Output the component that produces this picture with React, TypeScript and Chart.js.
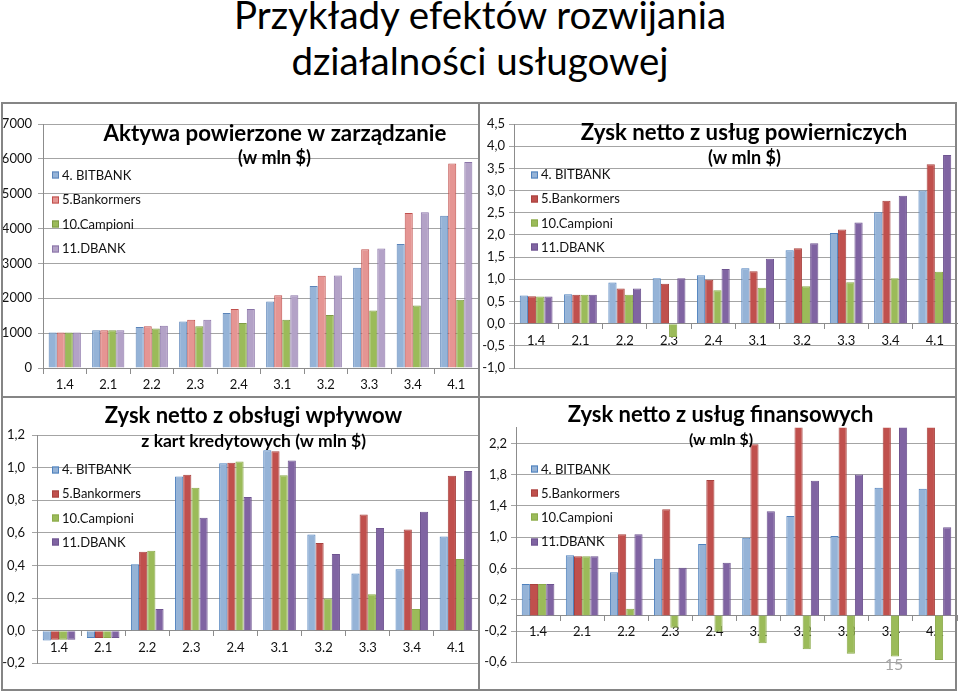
import React, { useEffect, useRef } from "react";
import { Chart, registerables } from "chart.js";

Chart.register(...registerables);

// ---------- data ----------
const CATEGORIES = ["1.4", "2.1", "2.2", "2.3", "2.4", "3.1", "3.2", "3.3", "3.4", "4.1"];
const SERIES_NAMES = ["4. BITBANK", "5.Bankormers", "10.Campioni", "11.DBANK"];

// Aktywa powierzone w zarządzanie (w mln $)
const AKTYWA_BITBANK = [1020, 1080, 1175, 1335, 1575, 1905, 2350, 2875, 3560, 4365];
const AKTYWA_BANKORMERS = [1020, 1080, 1195, 1385, 1690, 2090, 2645, 3410, 4450, 5865];
const AKTYWA_CAMPIONI = [1020, 1080, 1135, 1195, 1290, 1385, 1520, 1650, 1795, 1960];
const AKTYWA_DBANK = [1020, 1080, 1210, 1385, 1690, 2090, 2655, 3430, 4470, 5910];
const AKTYWA_TICKS = [0, 1000, 2000, 3000, 4000, 5000, 6000, 7000];

// Zysk netto z usług powierniczych (w mln $)
const POW_BITBANK = [0.635, 0.665, 0.93, 1.025, 1.09, 1.25, 1.655, 2.045, 2.51, 3.0];
const POW_BANKORMERS = [0.615, 0.65, 0.79, 0.9, 0.99, 1.18, 1.7, 2.12, 2.77, 3.59];
const POW_CAMPIONI = [0.61, 0.65, 0.65, -0.3, 0.755, 0.81, 0.84, 0.935, 1.025, 1.17];
const POW_DBANK = [0.61, 0.65, 0.79, 1.025, 1.23, 1.46, 1.81, 2.28, 2.885, 3.8];
const POW_TICKS = [-1.0, -0.5, 0.0, 0.5, 1.0, 1.5, 2.0, 2.5, 3.0, 3.5, 4.0, 4.5];

// Zysk netto z obsługi wpływow z kart kredytowych (w mln $)
const KART_BITBANK = [-0.06, -0.045, 0.407, 0.946, 1.026, 1.106, 0.59, 0.35, 0.376, 0.577];
const KART_BANKORMERS = [-0.055, -0.045, 0.484, 0.956, 1.03, 1.1, 0.537, 0.713, 0.62, 0.95];
const KART_CAMPIONI = [-0.055, -0.045, 0.49, 0.877, 1.038, 0.953, 0.198, 0.223, 0.133, 0.44];
const KART_DBANK = [-0.055, -0.045, 0.133, 0.693, 0.82, 1.043, 0.47, 0.63, 0.73, 0.98];
const KART_TICKS = [-0.2, 0.0, 0.2, 0.4, 0.6, 0.8, 1.0, 1.2];

// Zysk netto z usług finansowych (w mln $)
const FIN_BITBANK = [0.4, 0.768, 0.55, 0.725, 0.913, 0.994, 1.27, 1.015, 1.633, 1.62];
const FIN_BANKORMERS = [0.4, 0.755, 1.036, 1.356, 1.73, 2.187, 2.6, 2.7, 2.8, 2.9];
const FIN_CAMPIONI = [0.4, 0.755, 0.086, -0.157, -0.208, -0.357, -0.434, -0.49, -0.527, -0.57];
const FIN_DBANK = [0.4, 0.755, 1.036, 0.61, 0.674, 1.33, 1.722, 1.8, 2.5, 1.126];
const FIN_TICKS = [-0.6, -0.2, 0.2, 0.6, 1.0, 1.4, 1.8, 2.2];

// ---------- styles ----------
const FONT = "Lato, 'DejaVu Sans', sans-serif";
const GRID = "#a4a4a4";
const AXIS = "#8c8c8c";

const PASTEL = [
  { fill: "#95B3D7", border: "#5B84B9" },
  { fill: "#E59593", border: "#C0504D" },
  { fill: "#9BBB59", border: "#7E9A45" },
  { fill: "#B3A2C7", border: "#8A74A8" },
];
const STRONG = [
  { fill: "#95B3D7", border: "#4F81BD" },
  { fill: "#C0504D", border: "#A8423F" },
  { fill: "#9BBB59", border: "#8BAA4B" },
  { fill: "#8064A2", border: "#6E5490" },
];

type Spec = {
  rect: { x: number; y: number; w: number; h: number };
  area: { left: number; top: number; right: number; bottom: number };
  series: number[][];
  colors: { fill: string; border: string }[];
  ticks: number[];
  min: number;
  max: number;
  decimals: number;
  labelPad: number;
  titles: { text: string; x: number; y: number; size: number }[];
  legend: { x: number; y0: number; dy: number };
};

const SPECS: Spec[] = [
  {
    rect: { x: 1, y: 102, w: 478, h: 295 },
    area: { left: 42, top: 22, right: 477, bottom: 266 },
    series: [AKTYWA_BITBANK, AKTYWA_BANKORMERS, AKTYWA_CAMPIONI, AKTYWA_DBANK],
    colors: PASTEL,
    ticks: AKTYWA_TICKS,
    min: 0,
    max: 7000,
    decimals: 0,
    labelPad: 6,
    titles: [
      { text: "Aktywa powierzone w zarządzanie", x: 274, y: 38.7, size: 22.3 },
      { text: "(w mln $)", x: 273.5, y: 62, size: 18 },
    ],
    legend: { x: 51, y0: 73, dy: 24.6 },
  },
  {
    rect: { x: 480, y: 102, w: 478, h: 295 },
    area: { left: 34, top: 22, right: 477, bottom: 266 },
    series: [POW_BITBANK, POW_BANKORMERS, POW_CAMPIONI, POW_DBANK],
    colors: STRONG,
    ticks: POW_TICKS,
    min: -1.0,
    max: 4.5,
    decimals: 1,
    labelPad: 4,
    titles: [
      { text: "Zysk netto z usług powierniczych", x: 264, y: 38, size: 22.2 },
      { text: "(w mln $)", x: 264.5, y: 62, size: 18 },
    ],
    legend: { x: 51, y0: 72.7, dy: 24.1 },
  },
  {
    rect: { x: 1, y: 397, w: 478, h: 296 },
    area: { left: 36, top: 38, right: 477, bottom: 266.3 },
    series: [KART_BITBANK, KART_BANKORMERS, KART_CAMPIONI, KART_DBANK],
    colors: STRONG,
    ticks: KART_TICKS,
    min: -0.2,
    max: 1.2,
    decimals: 1,
    labelPad: 7,
    titles: [
      { text: "Zysk netto z obsługi wpływow", x: 252.5, y: 26.3, size: 22 },
      { text: "z kart kredytowych (w mln $)", x: 252.7, y: 49.7, size: 17.5 },
    ],
    legend: { x: 51, y0: 72.7, dy: 24.1 },
  },
  {
    rect: { x: 480, y: 397, w: 478, h: 296 },
    area: { left: 36, top: 30.7, right: 477, bottom: 265.3 },
    series: [FIN_BITBANK, FIN_BANKORMERS, FIN_CAMPIONI, FIN_DBANK],
    colors: STRONG,
    ticks: FIN_TICKS,
    min: -0.6,
    max: 2.4,
    decimals: 1,
    labelPad: 4,
    titles: [
      { text: "Zysk netto z usług finansowych", x: 240.5, y: 25.3, size: 22 },
      { text: "(w mln $)", x: 241, y: 48, size: 15.8 },
    ],
    legend: { x: 51, y0: 72, dy: 24.2 },
  },
];

function makeOverlay(spec: Spec) {
  return {
    id: "overlay",
    afterDatasetsDraw(chart: any) {
      const ctx = chart.ctx as CanvasRenderingContext2D;
      ctx.save();
      ctx.fillStyle = "#000";
      ctx.textAlign = "center";
      ctx.textBaseline = "alphabetic";
      spec.titles.forEach((t) => {
        ctx.font = `bold ${t.size}px ${FONT}`;
        ctx.fillStyle = "#000";
        ctx.fillText(t.text, t.x, t.y);
      });
      ctx.textAlign = "left";
      ctx.textBaseline = "middle";
      ctx.font = `13px ${FONT}`;
      chart.data.datasets.forEach((ds: any, i: number) => {
        const y = spec.legend.y0 + i * spec.legend.dy;
        const x = spec.legend.x;
        ctx.fillStyle = ds.backgroundColor;
        ctx.fillRect(x, Math.round(y) - 3.5, 7, 7);
        ctx.strokeStyle = ds.borderColor;
        ctx.lineWidth = 1;
        ctx.strokeRect(x + 0.5, Math.round(y) - 3, 6, 6);
        ctx.fillStyle = "#111";
        ctx.fillText(ds.label, x + 10, y + 0.5);
      });
      ctx.restore();
    },
  };
}

function ChartPanel({ spec }: { spec: Spec }) {
  const ref = useRef<HTMLCanvasElement>(null);
  useEffect(() => {
    const fmt = (v: number) => {
      if (spec.decimals === 0) return String(Math.round(v));
      return v.toFixed(spec.decimals).replace(".", ",");
    };
    const chart = new Chart(ref.current as HTMLCanvasElement, {
      type: "bar",
      data: {
        labels: CATEGORIES,
        datasets: spec.series.map((vals, i) => ({
          label: SERIES_NAMES[i],
          data: vals,
          backgroundColor: spec.colors[i].fill,
          borderColor: spec.colors[i].border,
          borderWidth: 1,
          barPercentage: 1,
          categoryPercentage: 0.74,
          clip: 0,
        })),
      },
      options: {
        animation: false,
        responsive: false,
        events: [],
        layout: {
          padding: {
            left: 0,
            top: spec.area.top,
            right: spec.rect.w - spec.area.right,
            bottom: spec.rect.h - spec.area.bottom,
          },
        },
        plugins: {
          legend: { display: false },
          tooltip: { enabled: false },
          title: { display: false },
        },
        scales: {
          x: {
            position: { y: 0 } as any,
            grid: {
              display: true,
              drawOnChartArea: false,
              drawTicks: true,
              tickLength: 5,
              color: AXIS,
            },
            border: { display: true, color: AXIS, width: 1 },
            ticks: {
              font: { family: FONT, size: 13 },
              color: "#111",
              padding: 4,
              maxRotation: 0,
              autoSkip: false,
            },
          },
          y: {
            min: spec.min,
            max: spec.max,
            afterFit: (s: any) => {
              s.width = spec.area.left;
            },
            afterBuildTicks: (s: any) => {
              s.ticks = spec.ticks.map((v) => ({ value: v }));
            },
            grid: { color: GRID, tickLength: 5, drawTicks: true },
            border: { display: true, color: AXIS, width: 1 },
            ticks: {
              font: { family: FONT, size: 13 },
              color: "#111",
              padding: spec.labelPad,
              callback: (v: any) => fmt(Number(v)),
            },
          },
        },
      },
      plugins: [makeOverlay(spec)],
    } as any);
    return () => chart.destroy();
  }, [spec]);
  return (
    <canvas
      ref={ref}
      width={spec.rect.w}
      height={spec.rect.h}
      style={{
        position: "absolute",
        left: spec.rect.x,
        top: spec.rect.y,
        width: spec.rect.w,
        height: spec.rect.h,
        display: "block",
      }}
    />
  );
}

export default function App() {
  const line = "#858585";
  return (
    <div
      style={{
        position: "fixed",
        left: 0,
        top: 0,
        width: 960,
        height: 694,
        background: "#fff",
        overflow: "hidden",
        fontFamily: FONT,
      }}
    >
      <div
        style={{
          position: "absolute",
          left: 0,
          top: -9,
          width: 960,
          textAlign: "center",
          fontSize: 38.5,
          lineHeight: "46px",
          color: "#000",
        }}
      >
        Przykłady efektów rozwijania
        <br />
        działalności usługowej
      </div>
      {SPECS.map((s, i) => (
        <ChartPanel key={i} spec={s} />
      ))}
      <div
        style={{
          position: "absolute",
          left: 1,
          top: 102,
          width: 956,
          height: 589,
          border: `2px solid ${line}`,
          boxSizing: "border-box",
        }}
      />
      <div style={{ position: "absolute", left: 478, top: 102, width: 2, height: 589, background: line }} />
      <div style={{ position: "absolute", left: 1, top: 396, width: 956, height: 2, background: line }} />
      <div
        style={{
          position: "absolute",
          left: 880,
          top: 654,
          width: 28,
          textAlign: "center",
          fontSize: 16,
          lineHeight: "20px",
          color: "#a6a6a6",
        }}
      >
        15
      </div>
    </div>
  );
}
